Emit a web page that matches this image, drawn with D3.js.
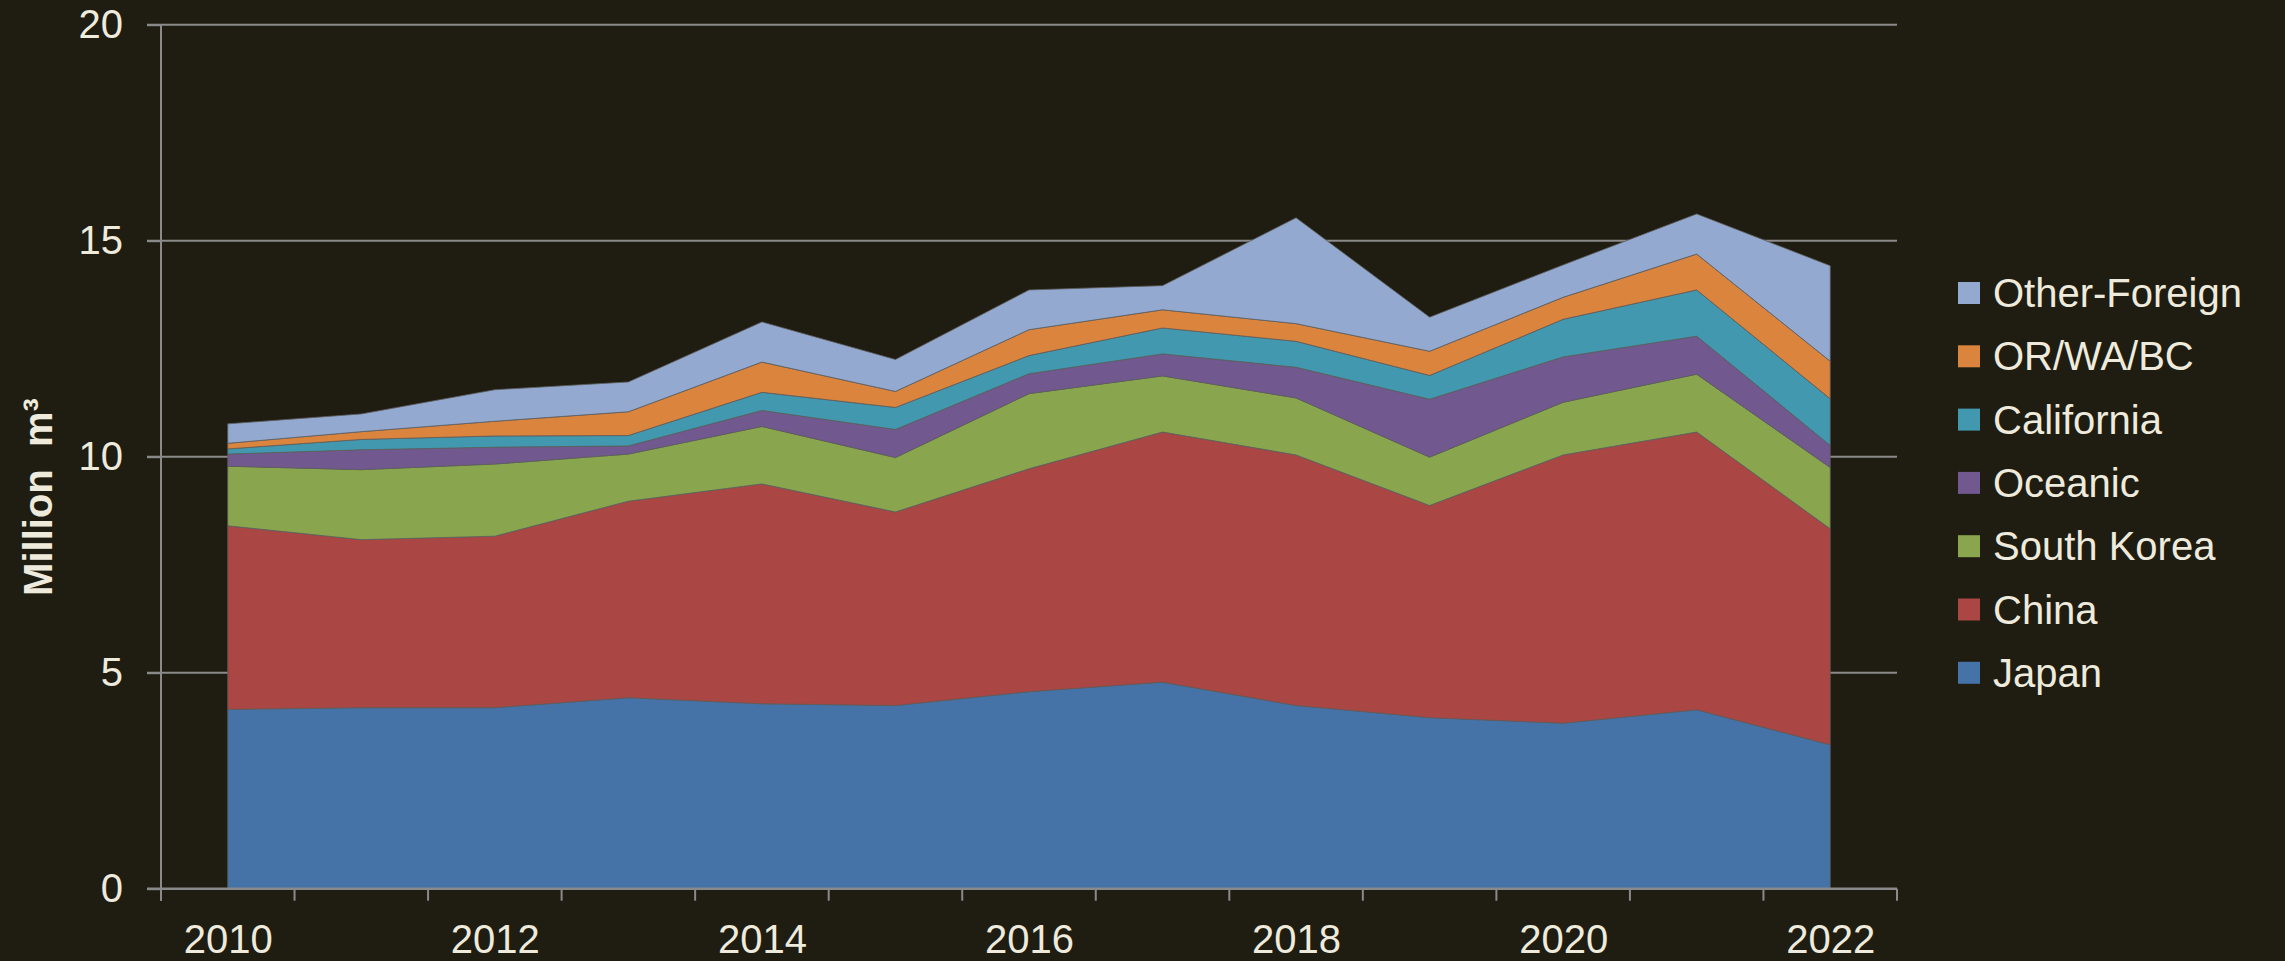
<!DOCTYPE html>
<html>
<head>
<meta charset="utf-8">
<script src="https://cdn.jsdelivr.net/npm/d3@7"></script>
<style>
  html, body { margin: 0; padding: 0; background: #1f1c12; }
  svg { display: block; }
  text { font-family: "Liberation Sans", Arial, sans-serif; fill: #eeebdd; }
</style>
</head>
<body>
<svg id="chart" width="2285" height="961"></svg>
<script>
// ---- Data (million m3) ----
const years = [2010, 2011, 2012, 2013, 2014, 2015, 2016, 2017, 2018, 2019, 2020, 2021, 2022];
const japan        = [4.15, 4.19, 4.19, 4.42, 4.28, 4.24, 4.56, 4.78, 4.24, 3.96, 3.83, 4.14, 3.33];
const china        = [4.25, 3.89, 3.97, 4.55, 5.09, 4.48, 5.16, 5.79, 5.80, 4.91, 6.21, 6.43, 5.00];
const southKorea   = [1.38, 1.62, 1.67, 1.09, 1.33, 1.26, 1.74, 1.30, 1.32, 1.12, 1.22, 1.34, 1.42];
const oceanic      = [0.28, 0.46, 0.39, 0.19, 0.37, 0.65, 0.46, 0.51, 0.71, 1.34, 1.05, 0.88, 0.51];
const california   = [0.12, 0.24, 0.26, 0.24, 0.42, 0.51, 0.42, 0.60, 0.60, 0.55, 0.87, 1.07, 1.08];
const orWaBc       = [0.13, 0.18, 0.34, 0.55, 0.70, 0.37, 0.60, 0.42, 0.41, 0.56, 0.51, 0.83, 0.87];
const otherForeign = [0.45, 0.41, 0.73, 0.69, 0.93, 0.74, 0.92, 0.56, 2.45, 0.79, 0.75, 0.93, 2.21];

const seriesNames  = ["Japan", "China", "South Korea", "Oceanic", "California", "OR/WA/BC", "Other-Foreign"];
const seriesValues = [japan, china, southKorea, oceanic, california, orWaBc, otherForeign];
const colors       = ["#4572a7", "#aa4643", "#89a54e", "#71588f", "#4198af", "#db843d", "#93a9cf"];
const yTicks = [0, 5, 10, 15, 20];
const xLabelYears = [2010, 2012, 2014, 2016, 2018, 2020, 2022];
const yTitle = "Million\u00a0\u00a0m\u00b3";

// ---- Layout ----
const svg = d3.select("#chart");
const plotLeft = 161, plotRight = 1897, plotTop = 24.7, plotBottom = 888.7;

const table = years.map((yr, i) => {
  const row = { year: yr };
  seriesNames.forEach((n, k) => row[n] = seriesValues[k][i]);
  return row;
});

const xBand = d3.scaleBand().domain(years).range([plotLeft, plotRight]).padding(0);
const xPoint = d3.scalePoint().domain(years).range([plotLeft, plotRight]).padding(0.5);
const y = d3.scaleLinear().domain([0, 20]).range([plotBottom, plotTop]);
const color = d3.scaleOrdinal().domain(seriesNames).range(colors);

// gridlines
svg.append("g").selectAll("line").data(yTicks.filter(d => d > 0)).join("line")
  .attr("x1", 147).attr("x2", plotRight)
  .attr("y1", d => y(d)).attr("y2", d => y(d))
  .attr("stroke", "#8a8a8a").attr("stroke-width", 2);

// stacked areas
const stack = d3.stack().keys(seriesNames);
const layers = stack(table);
const area = d3.area()
  .x(d => xPoint(d.data.year))
  .y0(d => y(d[0]))
  .y1(d => y(d[1]));

svg.append("g").selectAll("path").data(layers).join("path")
  .attr("d", area)
  .attr("fill", d => color(d.key))
  .attr("stroke", "rgba(95,95,95,0.8)")
  .attr("stroke-width", 1);

// y axis
const yAxis = d3.axisLeft(y).tickValues(yTicks).tickSize(14).tickPadding(24).tickFormat(d3.format("d"));
const gy = svg.append("g").attr("transform", `translate(${plotLeft},0)`).call(yAxis);
gy.select(".domain").attr("stroke", "#8a8a8a").attr("stroke-width", 2)
  .attr("d", `M0,${plotTop}V${plotBottom + 12}`);
gy.selectAll(".tick line").attr("stroke", "#8a8a8a").attr("stroke-width", 2);
gy.selectAll(".tick text").style("font-size", "40px").attr("fill", "#eeebdd")
  .style("font-family", "'Liberation Sans', Arial, sans-serif");

// x axis line
svg.append("line").attr("x1", 147).attr("x2", plotRight).attr("y1", plotBottom).attr("y2", plotBottom)
  .attr("stroke", "#8a8a8a").attr("stroke-width", 2.5);
// x tick marks at band boundaries
const boundaries = years.map(yr => xBand(yr)).concat([xBand(years[years.length - 1]) + xBand.bandwidth()]);
svg.append("g").selectAll("line").data(boundaries).join("line")
  .attr("x1", d => d).attr("x2", d => d)
  .attr("y1", plotBottom).attr("y2", plotBottom + 12)
  .attr("stroke", "#8a8a8a").attr("stroke-width", 2);

// x labels
const xAxis = d3.axisBottom(xPoint).tickValues(xLabelYears).tickSize(0).tickPadding(36).tickFormat(d3.format("d"));
const gx = svg.append("g").attr("transform", `translate(0,${plotBottom})`).call(xAxis);
gx.select(".domain").remove();
gx.selectAll(".tick text").style("font-size", "40px").attr("fill", "#eeebdd")
  .style("font-family", "'Liberation Sans', Arial, sans-serif");

// y title
svg.append("text")
  .attr("transform", "translate(52,497) rotate(-90)")
  .attr("text-anchor", "middle")
  .style("font-size", "40px").style("font-weight", "bold")
  .text(yTitle);

// legend (top entry = top layer)
const legendOrder = seriesNames.slice().reverse();
const lg = svg.append("g");
legendOrder.forEach((name, i) => {
  const cy = 293 + i * 63.3;
  lg.append("rect").attr("x", 1958).attr("y", cy - 11).attr("width", 22).attr("height", 22)
    .attr("fill", color(name));
  lg.append("text").attr("x", 1993).attr("y", cy + 14)
    .style("font-size", "40px").text(name);
});
</script>
</body>
</html>
